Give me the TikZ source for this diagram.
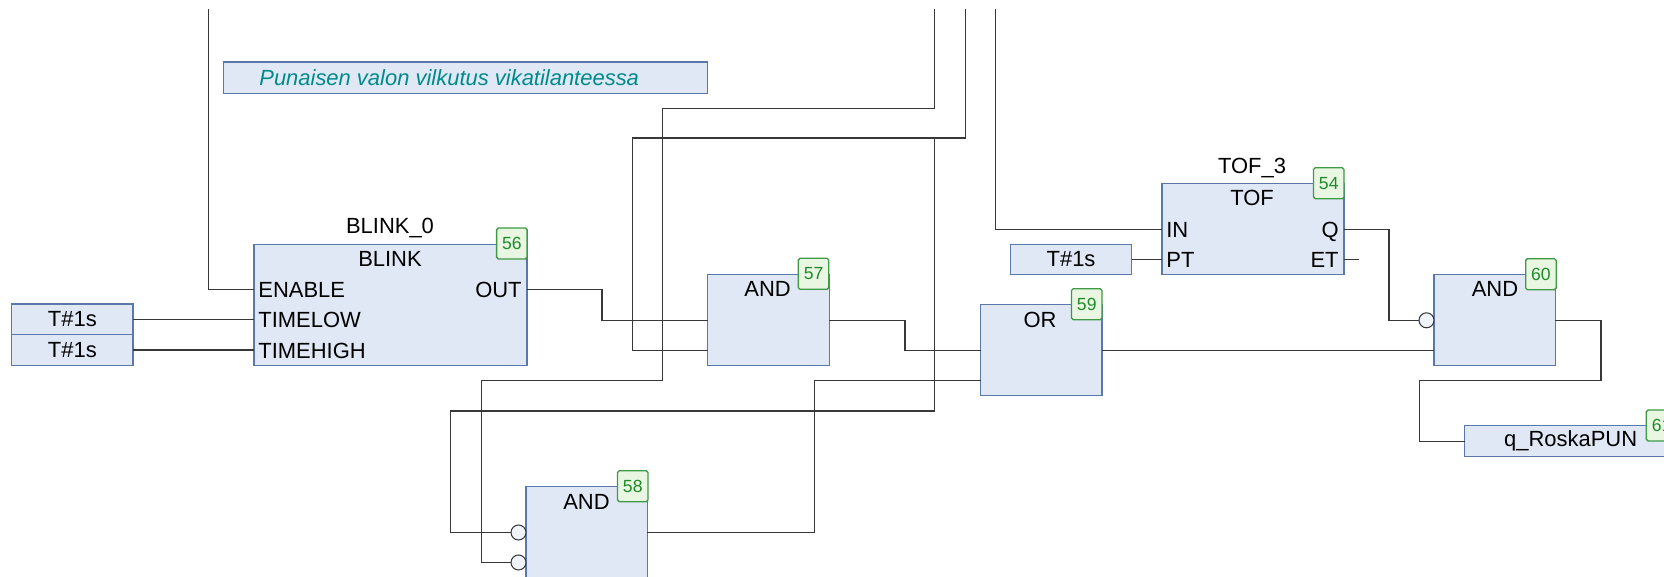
\documentclass[tikz,border=0pt]{standalone}
\usepackage{fontspec}
\setmainfont{Liberation Sans}
\usetikzlibrary{positioning}
\definecolor{boxfill}{HTML}{E0E8F6}
\definecolor{boxline}{HTML}{5A78AC}
\definecolor{badgefill}{HTML}{E8F6E2}
\definecolor{badgeline}{HTML}{3F9A45}
\definecolor{badgetext}{HTML}{1E8A28}
\definecolor{commenttext}{HTML}{008A8A}
\definecolor{wirecol}{HTML}{383838}
\begin{document}
\begin{tikzpicture}[
  x=0.02cm, y=-0.02cm,
  fblock/.style={draw=boxline, fill=boxfill, line width=0.75pt, rectangle, anchor=north west, inner sep=0pt, outer sep=0pt, font=\fontsize{12.5}{15}\selectfont},
  andbox/.style={fblock, minimum width=2.43cm, minimum height=1.83cm},
  constbox/.style={fblock, minimum width=2.43cm, minimum height=0.61cm},
  badge/.style={draw=badgeline, fill=badgefill, text=badgetext, line width=0.75pt, rounded corners=1pt, anchor=north west, inner sep=0pt, outer sep=0pt, minimum width=0.61cm, minimum height=0.62cm, font=\fontsize{10}{12}\selectfont},
  title/.style={inner sep=0pt, font=\fontsize{12.5}{15}\selectfont},
  pinlabel/.style={inner sep=0pt, text height=9pt, text depth=0pt, font=\fontsize{12.5}{15}\selectfont},
  inverter/.style={draw=wirecol, fill=boxfill!50!white, line width=0.6pt, circle, inner sep=0pt, outer sep=0pt, minimum size=0.3cm},
  wire/.style={draw=wirecol, line width=0.65pt}
]
\clip (0,0) rectangle (1664,577);

\node[fblock, minimum width=9.69cm, minimum height=0.63cm] (comment) at (223.4,62) {};
\node[title, anchor=west, text=commenttext, font=\fontsize{12.5}{15}\selectfont\itshape] (commentlabel) at (259,77.5) {Punaisen valon vilkutus vikatilanteessa};

\node[fblock, minimum width=5.46cm, minimum height=2.43cm] (blink) at (254,244.3) {};
\node[title] (blinkname) at (390,228) {BLINK\_0};
\node[title] (blinktitle) at (390,259) {BLINK};
\node[pinlabel, anchor=west] (enable) at (258,289.7) {ENABLE};
\node[pinlabel, anchor=west] (timelow) at (258,320) {TIMELOW};
\node[pinlabel, anchor=west] (timehigh) at (258,350.5) {TIMEHIGH};
\node[pinlabel, anchor=east] (blinkout) at (522,289.7) {OUT};
\node[badge] (b56) at (496.6,228) {56};

\node[constbox] (tlow) at (11.6,304) {T\#1s};
\node[constbox] (thigh) at (11.6,334.7) {T\#1s};

\node[andbox] (and57) at (707.8,274.3) {};
\node[title] (and57title) at (767.6,289) {AND};
\node[badge] (b57) at (798.3,258.3) {57};

\node[andbox, minimum height=1.86cm] (and58) at (526,486.7) {};
\node[title] (and58title) at (586.5,501.5) {AND};
\node[badge] (b58) at (617.5,470.7) {58};
\node[inverter, anchor=east] (inv58a) at (526,532.5) {};
\node[inverter, anchor=east] (inv58b) at (526,562.5) {};

\node[andbox] (or59) at (980.5,304.3) {};
\node[title] (or59title) at (1040,319.5) {OR};
\node[badge] (b59) at (1071.5,288.7) {59};

\node[fblock, minimum width=3.64cm, minimum height=1.83cm] (tof) at (1162,183.3) {};
\node[title] (tofname) at (1252,167.7) {TOF\_3};
\node[title] (toftitle) at (1252,198) {TOF};
\node[pinlabel, anchor=west] (tofin) at (1166,229.3) {IN};
\node[pinlabel, anchor=west] (tofpt) at (1166,259.3) {PT};
\node[pinlabel, anchor=east] (tofq) at (1339,229.3) {Q};
\node[pinlabel, anchor=east] (tofet) at (1339,259.3) {ET};
\node[badge] (b54) at (1313.5,167.7) {54};
\node[constbox] (tpt) at (1010.3,244.3) {T\#1s};

\node[andbox] (and60) at (1434,274.3) {};
\node[title] (and60title) at (1495,289) {AND};
\node[badge] (b60) at (1525.7,258.7) {60};
\node[inverter, anchor=east] (inv60) at (1434,320.3) {};

\node[fblock, minimum width=4.24cm, minimum height=0.62cm] (qroska) at (1464.7,425.7) {q\_RoskaPUN};
\node[badge] (b61) at (1646.3,410) {61};

\coordinate (top1) at (208.6,9.3);
\coordinate (top2) at (934.8,9.3);
\coordinate (top3) at (965.6,9.3);
\coordinate (top4) at (995.4,9.3);
\coordinate (etend) at (1359,259.3);
\coordinate (in57a) at (707.8,320.3);
\coordinate (in57b) at (707.8,350.7);
\coordinate (in59a) at (980.5,350.7);
\coordinate (in59b) at (980.5,380.7);
\coordinate (in60b) at (1434,350.7);

\draw[wire] (top1) |- (blink.west |- enable);
\draw[wire] (tlow.east) -- (blink.west |- tlow.east);
\draw[wire] (thigh.east) -- (blink.west |- thigh.east);
\draw[wire] (blink.east |- blinkout) -| (602,320.3) -- (in57a);
\draw[wire] (top3) |- (632.6,138) |- (in57b);
\draw[wire] (top2) |- (662.8,108.3) |- (481.2,380.7) |- (inv58b.west);
\draw[wire] (934.8,138) |- (450.6,411) |- (inv58a.west);
\draw[wire] (and57.east |- in57a) -| (905,350.7) -- (in59a);
\draw[wire] (and58.east |- inv58a) -| (814.2,380.7) -- (in59b);
\draw[wire] (or59.east |- in59a) -- (in60b);
\draw[wire] (top4) |- (tof.west |- tofin);
\draw[wire] (tpt.east) -- (tof.west |- tpt.east);
\draw[wire] (tof.east |- tofq) -| (1389,320.3) -- (inv60.west);
\draw[wire] (tof.east |- tofet) -- (etend);
\draw[wire] (and60.east |- inv60) -| (1601,380.3) -| (1419.4,400) |- (qroska.west);
\end{tikzpicture}
\end{document}
